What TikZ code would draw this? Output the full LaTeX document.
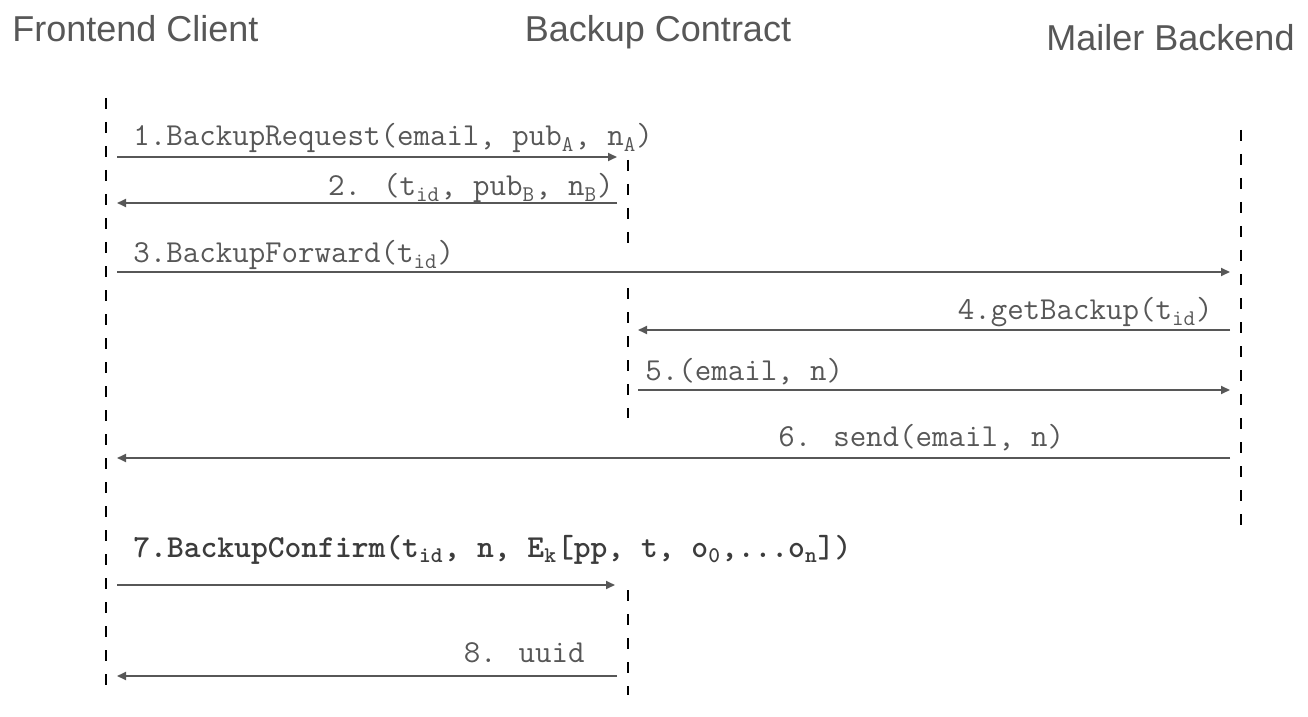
\documentclass[tikz,border=0pt]{standalone}
\usepackage{fontspec}
\setmainfont{Liberation Sans}
\usetikzlibrary{arrows.meta}

\definecolor{msggray}{HTML}{575757}
\definecolor{msgdark}{HTML}{3C3C3C}

\tikzset{
  lifeline/.style={line width=1pt, dash pattern=on 5.5pt off 6.5pt},
  msg/.style={draw=msggray, line width=0.9pt, -{Triangle[length=4.5pt,width=4pt]}},
  actor/.style={text=msggray, font=\fontsize{18}{20}\selectfont, inner sep=0pt},
  msgtext/.style={text=msggray, font=\ttfamily\fontsize{16}{18}\selectfont, inner sep=0pt},
}

\begin{document}
\begin{tikzpicture}[x=0.5pt, y=-0.5pt]
\useasboundingbox (0,0) rectangle (1308,717);

%% actors
\node[actor, anchor=base west] (fc) at (12,42) {Frontend Client};
\node[actor, anchor=base] (bc) at (658,42) {Backup Contract};
\node[actor, anchor=base east] (mb) at (1295,51) {Mailer Backend};

%% lifelines
\coordinate (fcA) at (106,98);    %% frontend client
\coordinate (fcB) at (106,692);
\coordinate (bcA) at (628,160);   %% backup contract
\coordinate (bcB) at (628,245);
\coordinate (bcC) at (628,288);
\coordinate (bcD) at (628,418);
\coordinate (bcE) at (628,590);
\coordinate (bcF) at (628,695);
\coordinate (mbA) at (1241,130);  %% mailer backend
\coordinate (mbB) at (1241,528);

\draw[lifeline] (fcA) -- (fcB);
\draw[lifeline] (bcA) -- (bcB);
\draw[lifeline] (bcC) -- (bcD);
\draw[lifeline] (bcE) -- (bcF);
\draw[lifeline] (mbA) -- (mbB);

%% message ends
\coordinate (m1a) at (117,157);   \coordinate (m1b) at (617,157);
\coordinate (m2a) at (617,203);   \coordinate (m2b) at (117,203);
\coordinate (m3a) at (117,272);   \coordinate (m3b) at (1230,272);
\coordinate (m4a) at (1230,330);  \coordinate (m4b) at (638,330);
\coordinate (m5a) at (638,390);   \coordinate (m5b) at (1230,390);
\coordinate (m6a) at (1230,458);  \coordinate (m6b) at (117,458);
\coordinate (m7a) at (117,585);   \coordinate (m7b) at (615,585);
\coordinate (m8a) at (617,676);   \coordinate (m8b) at (117,676);

%%% messages
\draw[msg] (m1a) -- (m1b);   %% request
\node[msgtext, anchor=base west] (t1) at (133,146) {1.BackupRequest(email, pub\textsubscript{A}, n\textsubscript{A})};
\draw[msg] (m2a) -- (m2b);   %% reply
\node[msgtext, anchor=base east] (t2) at (614,196) {2. (t\textsubscript{id}, pub\textsubscript{B}, n\textsubscript{B})};
\draw[msg] (m3a) -- (m3b);   %% forward
\node[msgtext, anchor=base west] (t3) at (133,263) {3.BackupForward(t\textsubscript{id})};
\draw[msg] (m4a) -- (m4b);   %% get
\node[msgtext, anchor=base east] (t4) at (1213,320) {4.getBackup(t\textsubscript{id})};
\draw[msg] (m5a) -- (m5b);   %% email
\node[msgtext, anchor=base west] (t5) at (645,380) {5.(email, n)};
\draw[msg] (m6a) -- (m6b);   %% send
\node[msgtext, anchor=base west] (t6) at (778,446) {6. send(email, n)};
\draw[msg] (m7a) -- (m7b);   %% confirm
\node[msgtext, anchor=base west, text=msgdark, font=\ttfamily\bfseries\fontsize{16}{18}\selectfont] (t7) at (133,557)
  {7.BackupConfirm(t\textsubscript{id}, n, E\textsubscript{k}[pp, t, o\textsubscript{0},...o\textsubscript{n}])};
\draw[msg] (m8a) -- (m8b);   %% uuid
\node[msgtext, anchor=base east] (t8) at (585,662) {8. uuid};

\end{tikzpicture}
\end{document}
